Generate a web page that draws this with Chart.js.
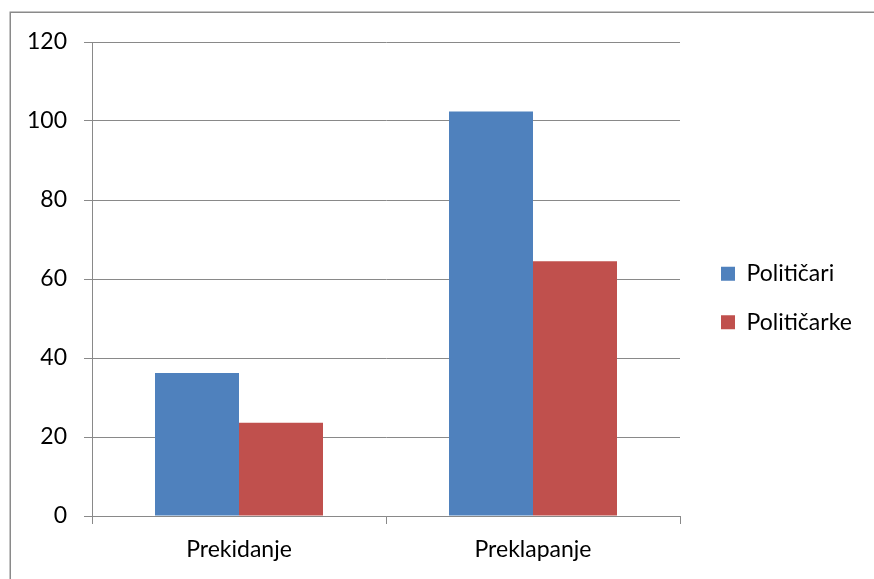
<!DOCTYPE html>
<html><head><meta charset="utf-8">
<script src="https://cdn.jsdelivr.net/npm/chart.js@4"></script>
<style>html,body{margin:0;padding:0;background:#fff}#wrap{position:relative;width:874px;height:579px}</style>
</head><body><div id="wrap"><canvas id="c"></canvas></div>
<script>
const categories = ['Prekidanje', 'Preklapanje'];
const seriesNames = ['Političari', 'Političarke'];
const politicari = [36.2, 102.4];
const politicarke = [23.6, 64.5];
const yTicks = [0, 20, 40, 60, 80, 100, 120];

const GRID = '#898989';
const FONT = {family: 'Lato', size: 23};

const framePlugin = {
  id: 'frame',
  beforeDraw(chart) {
    const ctx = chart.ctx;
    ctx.save();
    ctx.fillStyle = '#ffffff';
    ctx.fillRect(0, 0, chart.width, chart.height);
    ctx.strokeStyle = '#8a8a8a';
    ctx.lineWidth = 1.5;
    ctx.strokeRect(10.25, 12.25, chart.width + 20, chart.height + 20);
    ctx.restore();
  }
};

new Chart(document.getElementById('c'), {
  type: 'bar',
  data: {
    labels: categories,
    datasets: [
      {label: seriesNames[0], data: politicari, backgroundColor: '#4F81BD', borderWidth: 0,
       categoryPercentage: 2 / 3.5, barPercentage: 1},
      {label: seriesNames[1], data: politicarke, backgroundColor: '#C0504D', borderWidth: 0,
       categoryPercentage: 2 / 3.5, barPercentage: 1}
    ]
  },
  options: {
    responsive: true,
    maintainAspectRatio: false,
    animation: false,
    layout: {padding: {top: 42, right: 18.5, bottom: 0, left: 0}},
    plugins: {
      tooltip: {enabled: false},
      legend: {
        position: 'right', align: 'start', maxWidth: 160,
        title: {display: true, text: ' ', font: {size: 10, lineHeight: 1}, padding: {top: 184.75, bottom: 0}},
        labels: {boxWidth: 14, boxHeight: 14, padding: 25.5, color: '#000', font: FONT}
      }
    },
    scales: {
      x: {
        type: 'category',
        offset: true,
        grid: {display: true, offset: true, drawOnChartArea: false, drawTicks: true, tickLength: 8, color: GRID, lineWidth: 1},
        border: {display: true, color: GRID, width: 1},
        ticks: {color: '#000', font: FONT, padding: 12, maxRotation: 0},
        afterFit(s) { s.height = 63; }
      },
      y: {
        type: 'linear',
        min: 0, max: 120,
        grid: {color: GRID, lineWidth: 1, drawTicks: true, tickLength: 8},
        border: {display: true, color: GRID, width: 1},
        ticks: {color: '#000', font: FONT, padding: 17},
        afterBuildTicks(s) { s.ticks = yTicks.map(v => ({value: v})); },
        afterFit(s) { s.width = 92; }
      },
      yR: {
        type: 'linear',
        position: 'right',
        display: true,
        grid: {display: false},
        border: {display: false},
        ticks: {display: false},
        afterFit(s) { s.width = 15.5; }
      }
    }
  },
  plugins: [framePlugin]
});
</script>
</body></html>
